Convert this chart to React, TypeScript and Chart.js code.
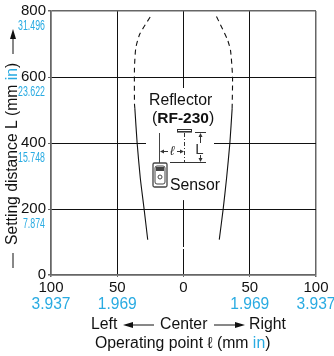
import React, { useEffect, useRef } from "react";
import { Chart, registerables } from "chart.js";

Chart.register(...registerables);

const FONT = '"Liberation Sans", Arial, sans-serif';
const BLUE = "#29abe2";
const FRAME = "#666666";

const xTicks = [-100, -50, 0, 50, 100];
const xInches = ["3.937", "1.969", "", "1.969", "3.937"];
const yTicks = [0, 200, 400, 600, 800];
const yInches = ["", "7.874", "15.748", "23.622", "31.496"];

const leftSolidX = [-27, -29.8, -32.6, -35, -36.7];
const leftSolidY = [107, 202, 293, 400, 504];
const leftDashX = [-36.7, -37, -37, -36, -33, -24.7];
const leftDashY = [504, 519, 628, 688, 730, 785];
const rightSolidX = [27, 30, 32.5, 35, 36.7];
const rightSolidY = [107, 202, 293, 400, 504];
const rightDashX = [36.7, 37, 35.5, 33, 24.7];
const rightDashY = [504, 600, 680, 715, 785];

const zip = (xs: number[], ys: number[]) => xs.map((x, i) => ({ x, y: ys[i] }));

function arrowHead(c: CanvasRenderingContext2D, x: number, y: number, dx: number, dy: number, len: number, half: number) {
  c.beginPath();
  c.moveTo(x, y);
  c.lineTo(x - dx * len - dy * half, y - dy * len - dx * half);
  c.lineTo(x - dx * len + dy * half, y - dy * len + dx * half);
  c.closePath();
  c.fill();
}

function line(c: CanvasRenderingContext2D, x1: number, y1: number, x2: number, y2: number) {
  c.beginPath();
  c.moveTo(x1, y1);
  c.lineTo(x2, y2);
  c.stroke();
}

const overlay = {
  id: "overlay",
  beforeDatasetsDraw(chart: any) {
    const c: CanvasRenderingContext2D = chart.ctx;
    const xs = chart.scales.x;
    const ys = chart.scales.y;
    const cx = xs.getPixelForValue(0);
    c.save();
    c.fillStyle = "#ffffff";
    c.fillRect(146, ys.getPixelForValue(530), 68, 100);
    c.fillRect(cx - 33, 88, 63, 112);
    c.fillRect(cx - 2, 247, 4, 2);
    c.restore();
  },
  afterDraw(chart: any) {
    const c: CanvasRenderingContext2D = chart.ctx;
    const xs = chart.scales.x;
    const ys = chart.scales.y;
    c.save();
    c.textBaseline = "middle";

    // inch labels
    c.fillStyle = BLUE;
    c.textAlign = "center";
    c.font = `15.6px ${FONT}`;
    xTicks.forEach((t, i) => {
      if (xInches[i]) c.fillText(xInches[i], xs.getPixelForValue(t), 304.5);
    });
    c.font = `14px ${FONT}`;
    yTicks.forEach((t, i) => {
      if (!yInches[i]) return;
      c.save();
      c.translate(45, ys.getPixelForValue(t) + 15.5);
      c.scale(0.63, 1);
      c.textAlign = "right";
      c.fillText(yInches[i], 0, 0);
      c.restore();
    });

    // bottom texts
    c.fillStyle = "#111111";
    c.strokeStyle = "#111111";
    c.font = `15.8px ${FONT}`;
    c.textAlign = "left";
    c.fillText("Left", 91, 325);
    c.fillText("Center", 160, 325);
    c.fillText("Right", 249, 325);
    c.lineWidth = 1;
    line(c, 130, 325, 154, 325);
    arrowHead(c, 123, 325, -1, 0, 10, 3);
    line(c, 214, 325, 238, 325);
    arrowHead(c, 245, 325, 1, 0, 10, 3);
    const op = "Operating point ℓ (mm ";
    let x = 95;
    c.fillText(op, x, 344);
    x += c.measureText(op).width;
    c.fillStyle = BLUE;
    c.fillText("in", x, 344);
    x += c.measureText("in").width;
    c.fillStyle = "#111111";
    c.fillText(")", x, 344);

    // y title
    c.save();
    c.translate(13, 245);
    c.rotate(-Math.PI / 2);
    c.textAlign = "left";
    c.font = `15.7px ${FONT}`;
    const st = "Setting distance L (mm ";
    c.fillText(st, 0, 0);
    let w = c.measureText(st).width;
    c.fillStyle = BLUE;
    c.fillText("in", w, 0);
    w += c.measureText("in").width;
    c.fillStyle = "#111111";
    c.fillText(")", w, 0);
    c.restore();
    c.lineWidth = 1;
    line(c, 13, 268, 13, 253);
    line(c, 13, 54, 13, 38);
    arrowHead(c, 13, 29, 0, -1, 10, 3);

    // inset
    c.textAlign = "left";
    c.font = `15.8px ${FONT}`;
    c.fillText("Reflector", 149, 100.5);
    c.fillText("(", 152, 119);
    let rx = 152 + c.measureText("(").width;
    c.font = `bold 15.5px ${FONT}`;
    c.fillText("RF-230", rx, 119);
    rx += c.measureText("RF-230").width;
    c.font = `15.8px ${FONT}`;
    c.fillText(")", rx, 119);
    c.fillText("Sensor", 170, 186);

    c.lineWidth = 1;
    c.strokeStyle = "#444444";
    line(c, 159.5, 133, 159.5, 163);
    c.strokeStyle = "#333333";
    line(c, 170, 162.5, 206, 162.5);
    // reflector
    c.strokeRect(177.5, 129.5, 14, 2);
    c.fillStyle = "#888888";
    c.fillRect(177, 132, 15, 1);
    c.setLineDash([4, 2, 1, 2]);
    line(c, 184.5, 133, 184.5, 162);
    c.setLineDash([]);
    // L dimension
    c.strokeStyle = "#333333";
    line(c, 195, 132.5, 206, 132.5);
    line(c, 200.5, 137, 200.5, 143);
    line(c, 200.5, 155, 200.5, 161);
    c.fillStyle = "#333333";
    arrowHead(c, 200.5, 133, 0, -1, 4, 2);
    arrowHead(c, 200.5, 162, 0, 1, 4, 2);
    c.font = `15px ${FONT}`;
    c.textAlign = "center";
    c.fillText("L", 199.5, 149.5);
    // l dimension
    line(c, 161, 151.5, 168, 151.5);
    line(c, 177, 151.5, 183, 151.5);
    arrowHead(c, 160, 151.5, -1, 0, 4, 2);
    arrowHead(c, 184, 151.5, 1, 0, 4, 2);
    c.font = `italic 13px ${FONT}`;
    c.fillText("ℓ", 172, 151);
    // sensor body
    c.strokeStyle = "#444444";
    c.lineWidth = 1.3;
    c.beginPath();
    c.roundRect(153, 163, 14, 24, 1.5);
    c.stroke();
    c.lineWidth = 1;
    c.beginPath();
    c.roundRect(155, 166, 10, 18, 2);
    c.stroke();
    c.fillStyle = "#444444";
    c.fillRect(156, 167, 8, 4);
    c.beginPath();
    c.arc(160, 177, 2, 0, Math.PI * 2);
    c.stroke();
    c.restore();
  },
};

export default function App() {
  const ref = useRef<HTMLCanvasElement>(null);
  useEffect(() => {
    const solid = { borderColor: "#111111", borderWidth: 1.1, pointRadius: 0, showLine: true, tension: 0.2, fill: false };
    const dashed = { ...solid, borderDash: [5, 4] };
    const chart = new Chart(ref.current!, {
      type: "scatter",
      data: {
        datasets: [
          { ...solid, data: zip(leftSolidX, leftSolidY) },
          { ...dashed, data: zip(leftDashX, leftDashY) },
          { ...solid, data: zip(rightSolidX, rightSolidY) },
          { ...dashed, data: zip(rightDashX, rightDashY) },
        ],
      },
      options: {
        animation: false,
        responsive: false,
        layout: { padding: { top: 10, right: 18, left: 0, bottom: 0 } },
        plugins: { legend: { display: false }, tooltip: { enabled: false } },
        scales: {
          x: {
            type: "linear",
            min: -100,
            max: 100,
            afterBuildTicks: (s: any) => { s.ticks = xTicks.map((value) => ({ value })); },
            afterFit: (s: any) => { s.height = 81; },
            border: { color: FRAME, width: 1.5 },
            grid: {
              color: (ctx: any) => (Math.abs(ctx.tick.value) === 100 ? FRAME : "#111111"),
              lineWidth: (ctx: any) => (Math.abs(ctx.tick.value) === 100 ? 1.5 : 1),
              tickLength: 2,
              tickColor: FRAME,
            },
            ticks: {
              color: "#111111",
              font: { family: FONT, size: 15 },
              padding: 2,
              maxRotation: 0,
              autoSkip: false,
              callback: (v: any) => String(Math.abs(Number(v))),
            },
          },
          y: {
            type: "linear",
            min: 0,
            max: 800,
            afterBuildTicks: (s: any) => { s.ticks = yTicks.map((value) => ({ value })); },
            afterFit: (s: any) => { s.width = 51; },
            border: { color: FRAME, width: 1.5 },
            grid: {
              color: (ctx: any) => (ctx.tick.value === 0 || ctx.tick.value === 800 ? FRAME : "#111111"),
              lineWidth: (ctx: any) => (ctx.tick.value === 0 || ctx.tick.value === 800 ? 1.5 : 1),
              tickLength: 3,
              tickColor: FRAME,
            },
            ticks: {
              color: "#111111",
              font: { family: FONT, size: 15 },
              padding: 2,
              autoSkip: false,
              callback: (v: any) => String(v),
            },
          },
        },
      },
      plugins: [overlay as any],
    } as any);
    return () => chart.destroy();
  }, []);
  return (
    <canvas
      ref={ref}
      width={334}
      height={356}
      style={{ position: "absolute", left: 0, top: 0, width: 334, height: 356, background: "#fff" }}
    />
  );
}
